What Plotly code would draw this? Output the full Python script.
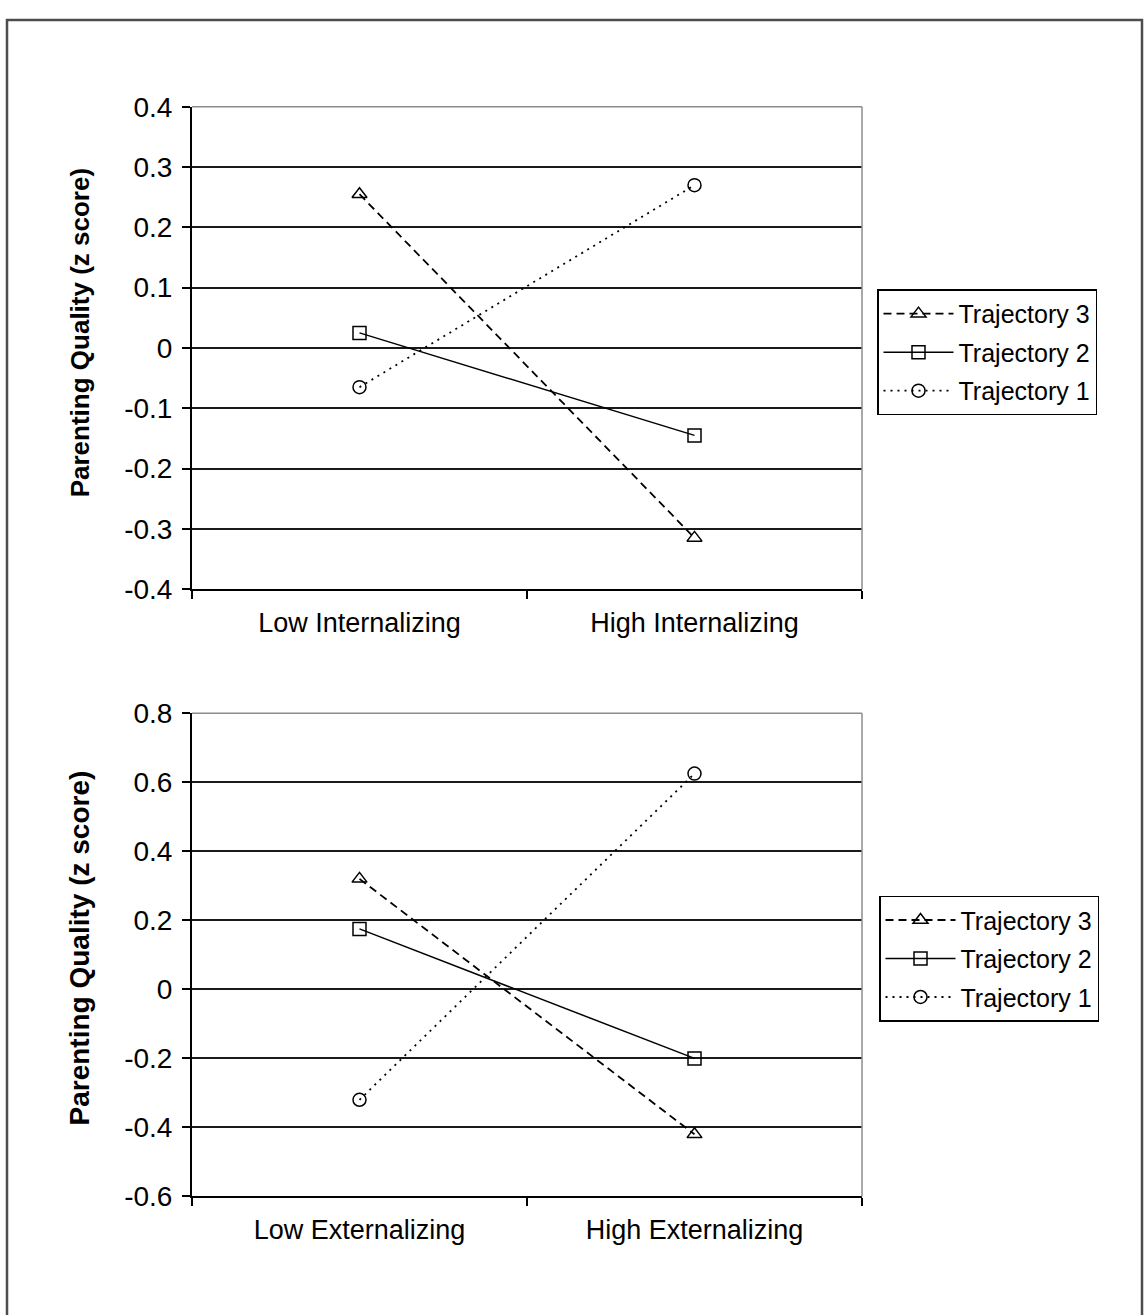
import plotly.graph_objects as go

# ---------------- data ----------------
series_names = ["Trajectory 3", "Trajectory 2", "Trajectory 1"]
categories_int = ["Low Internalizing", "High Internalizing"]
categories_ext = ["Low Externalizing", "High Externalizing"]

traj3_int = [0.255, -0.315]
traj2_int = [0.025, -0.145]
traj1_int = [-0.065, 0.27]

traj3_ext = [0.32, -0.42]
traj2_ext = [0.175, -0.20]
traj1_ext = [-0.32, 0.625]

yticks_int = [0.4, 0.3, 0.2, 0.1, 0, -0.1, -0.2, -0.3, -0.4]
ylabels_int = ["0.4", "0.3", "0.2", "0.1", "0", "-0.1", "-0.2", "-0.3", "-0.4"]
yticks_ext = [0.8, 0.6, 0.4, 0.2, 0, -0.2, -0.4, -0.6]
ylabels_ext = ["0.8", "0.6", "0.4", "0.2", "0", "-0.2", "-0.4", "-0.6"]

y_title = "Parenting Quality (z score)"

# ---------------- styling ----------------
W, H = 1145, 1315
FONT = "Liberation Sans, Arial, sans-serif"
styles = {
    "Trajectory 3": dict(dash="8px,5px", symbol="triangle-up-open", width=1.8),
    "Trajectory 2": dict(dash="solid", symbol="square-open", width=1.5),
    "Trajectory 1": dict(dash="2px,5px", symbol="circle-open", width=1.8),
}

def px_x(p):
    return p / W

def px_y(p):
    return 1 - p / H

fig = go.Figure()

panels = [
    ("x", "y", "legend", "a", categories_int, [traj3_int, traj2_int, traj1_int]),
    ("x2", "y2", "legend2", "b", categories_ext, [traj3_ext, traj2_ext, traj1_ext]),
]
for xa, ya, lg, tag, cats, vals in panels:
    for name, v in zip(series_names, vals):
        st = styles[name]
        fig.add_trace(go.Scatter(
            x=cats, y=v, name=name, xaxis=xa, yaxis=ya, legend=lg,
            legendgroup=tag + name,
            mode="lines+markers",
            line=dict(color="black", width=st["width"], dash=st["dash"]),
            marker=dict(symbol=st["symbol"], size=13, color="black",
                        line=dict(color="black", width=1.5)),
            cliponaxis=False,
        ))

ytickfont = dict(family=FONT, size=28, color="black")
xtickfont = dict(family=FONT, size=27, color="black")
common_x = dict(type="category", tickson="boundaries", ticks="outside",
                ticklen=8, tickwidth=1.5, tickcolor="black",
                showline=True, linecolor="black", linewidth=2,
                showgrid=False, tickfont=xtickfont, range=[-0.5, 1.5],
                ticklabelstandoff=8, fixedrange=True)
common_y = dict(ticks="outside", ticklen=8, tickwidth=1.5, tickcolor="black",
                showline=True, linecolor="black", linewidth=2,
                showgrid=True, gridcolor="#1a1a1a", gridwidth=1.6,
                zeroline=False, tickfont=ytickfont, ticklabelstandoff=4,
                fixedrange=True)

legend_common = dict(xanchor="left", yanchor="top",
                     bordercolor="black", borderwidth=1.5, bgcolor="white",
                     font=dict(family=FONT, size=25, color="black"),
                     itemwidth=70, tracegroupgap=3, traceorder="grouped")

xdom = [px_x(192), px_x(862)]
fig.update_layout(
    width=W, height=H,
    margin=dict(l=0, r=0, t=0, b=0),
    paper_bgcolor="white", plot_bgcolor="white",
    font=dict(family=FONT, color="black"),
    xaxis=dict(domain=xdom, anchor="y", **common_x),
    yaxis=dict(domain=[px_y(588), px_y(94)], anchor="x", range=[-0.4, 0.4],
               tickvals=yticks_int, ticktext=ylabels_int, **common_y),
    xaxis2=dict(domain=xdom, anchor="y2", **common_x),
    yaxis2=dict(domain=[px_y(1210), px_y(715)], anchor="x2", range=[-0.6, 0.8],
                tickvals=yticks_ext, ticktext=ylabels_ext, **common_y),
    legend=dict(x=px_x(877), y=px_y(281), **legend_common),
    legend2=dict(x=px_x(879), y=px_y(902), **legend_common),
    showlegend=True,
)

shapes = []
# plot-area top and right borders (gray)
for xd, yd in [("x domain", "y domain"), ("x2 domain", "y2 domain")]:
    shapes.append(dict(type="line", xref=xd, yref=yd, x0=0, x1=1, y0=1, y1=1,
                       line=dict(color="#8c8c8c", width=1.5), layer="above"))
    shapes.append(dict(type="line", xref=xd, yref=yd, x0=1, x1=1, y0=0, y1=1,
                       line=dict(color="#8c8c8c", width=1.5), layer="above"))
# outer frame
shapes.append(dict(type="rect", xref="paper", yref="paper",
                   x0=px_x(7), x1=px_x(1142), y0=-0.05, y1=px_y(5),
                   line=dict(color="#4d4d4d", width=2.5), layer="below"))
fig.update_layout(shapes=shapes)

fig.add_annotation(text="<b>%s</b>" % y_title, textangle=-90,
                   xref="paper", yref="paper", x=px_x(80), y=px_y(326),
                   xanchor="center", yanchor="middle", showarrow=False,
                   font=dict(family=FONT, size=26, color="black"))
fig.add_annotation(text="<b>%s</b>" % y_title, textangle=-90,
                   xref="paper", yref="paper", x=px_x(79), y=px_y(956),
                   xanchor="center", yanchor="middle", showarrow=False,
                   font=dict(family=FONT, size=28, color="black"))

fig.write_html("out.html", config={"displayModeBar": False},
               post_script="document.body.style.margin='0';document.body.style.overflow='hidden';")
